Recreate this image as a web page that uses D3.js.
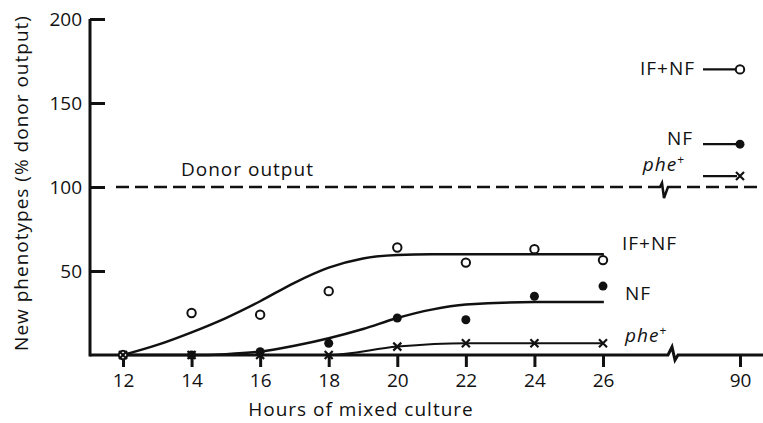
<!DOCTYPE html>
<html>
<head>
<meta charset="utf-8">
<script src="https://cdn.jsdelivr.net/npm/d3@7"></script>
<style>
  body { margin: 0; background: #fff; }
  svg text { font-family: "Open Sans", Lato, sans-serif; fill: #111; }
  .lab { letter-spacing: 1px; }
</style>
</head>
<body>
<svg id="chart" width="763" height="423"></svg>
<script>
// observed points (hours of mixed culture)
var hours = [12, 14, 16, 18, 20, 22, 24, 26];
var ifnf = [0, 25, 24, 38, 64, 55, 63, 56.5];
var nf = [0, 0, 2, 7, 22, 21, 35, 41];
var phe = [0, 0, 0, 0, 5, 7, 7, 7];

// the 90 h values
var late = 90;
var ifnfLate = 170;
var nfLate = 125.5;
var pheLate = 106.5;

// hand drawn fitted curves
var fitHours = [12, 13, 14, 15, 16, 17, 18, 19, 20, 21, 22, 24, 26.4];
var ifnfFit = [0, 6, 13.5, 22, 32, 43, 52, 57.5, 59.5, 60, 60, 60, 60];
var nfFit = [0, 0, 0, 0.5, 2, 5.5, 10, 15.5, 22, 27, 30, 31.5, 31.5];
var pheHours = [12, 14, 16, 18, 20, 22, 24, 26, 26.3];
var pheFit = [0, 0, 0, 0, 5, 7, 7, 7, 7];

var xTicks = [12, 14, 16, 18, 20, 22, 24, 26, 90];
var yTicks = [50, 100, 150, 200];
var donor = 100;

var svg = d3.select("#chart");

// broken x axis: 12-26 then jump to 90
var x = d3.scaleLinear()
    .domain([12, 26, 90])
    .range([123, 603, 740]);

var y = d3.scaleLinear()
    .domain([0, 200])
    .range([355, 19]);

var ink = "#111";

// y axis
var yAxis = svg.append("g")
    .attr("transform", "translate(90,0)")
    .call(d3.axisLeft(y).tickValues(yTicks).tickSize(-15).tickSizeOuter(0).tickPadding(8));
yAxis.select(".domain").remove();
yAxis.selectAll("line").attr("stroke", ink).attr("stroke-width", 3);
yAxis.selectAll("text").style("font-size", "19px").attr("fill", ink);
svg.append("line")
    .attr("x1", 90).attr("x2", 90)
    .attr("y1", y(200)).attr("y2", y(0) + 1.5)
    .attr("stroke", ink).attr("stroke-width", 3);

// x axis
var xAxis = svg.append("g")
    .attr("transform", "translate(0," + y(0) + ")")
    .call(d3.axisBottom(x).tickValues(xTicks).tickSize(12).tickSizeOuter(0).tickPadding(7));
xAxis.select(".domain").remove();
xAxis.selectAll("line").attr("stroke", ink).attr("stroke-width", 3);
xAxis.selectAll("text").style("font-size", "19px").attr("fill", ink);

var bx = 672, by = y(0);
svg.append("path")
    .attr("d", "M90," + by + "L" + (bx - 4) + "," + by + "L" + bx + "," + (by - 8) +
        "L" + (bx + 3) + "," + (by + 5) + "L" + (bx + 6) + "," + by + "L763," + by)
    .attr("fill", "none").attr("stroke", ink).attr("stroke-width", 3)
    .attr("stroke-linejoin", "miter");

// donor output dashed line with its break
var dy = y(donor), dbx = 663;
svg.append("line")
    .attr("x1", 116).attr("x2", dbx - 8)
    .attr("y1", dy).attr("y2", dy)
    .attr("stroke", ink).attr("stroke-width", 2.5).attr("stroke-dasharray", "13,6");
svg.append("path")
    .attr("d", "M" + (dbx - 8) + "," + dy + "L" + (dbx - 3) + "," + dy + "L" + (dbx - 1) + "," + (dy - 4) +
        "L" + (dbx + 1) + "," + (dy + 11) + "L" + (dbx + 5) + "," + dy + "L" + (dbx + 18) + "," + dy)
    .attr("fill", "none").attr("stroke", ink).attr("stroke-width", 2.5);
svg.append("line")
    .attr("x1", dbx + 24).attr("x2", 763)
    .attr("y1", dy).attr("y2", dy)
    .attr("stroke", ink).attr("stroke-width", 2.5).attr("stroke-dasharray", "13,6");

svg.append("text")
    .attr("class", "lab")
    .attr("x", 181).attr("y", dy - 11)
    .style("font-size", "19px")
    .text("Donor output");

// fitted curves
var line = d3.line()
    .x(function (d) { return x(d[0]); })
    .y(function (d) { return y(d[1]); })
    .curve(d3.curveMonotoneX);

svg.append("path")
    .datum(d3.zip(fitHours, ifnfFit))
    .attr("d", line)
    .attr("fill", "none").attr("stroke", ink).attr("stroke-width", 2.5);
svg.append("path")
    .datum(d3.zip(fitHours, nfFit))
    .attr("d", line)
    .attr("fill", "none").attr("stroke", ink).attr("stroke-width", 2.5);
svg.append("path")
    .datum(d3.zip(pheHours, pheFit))
    .attr("d", line)
    .attr("fill", "none").attr("stroke", ink).attr("stroke-width", 2);

// markers
var crossPath = function (cx, cy, r) {
    return "M" + (cx - r) + "," + (cy - r) + "L" + (cx + r) + "," + (cy + r) +
        "M" + (cx - r) + "," + (cy + r) + "L" + (cx + r) + "," + (cy - r);
};

svg.append("g").selectAll("circle")
    .data(d3.zip(hours, nf))
    .enter().append("circle")
    .attr("cx", function (d) { return x(d[0]); })
    .attr("cy", function (d) { return y(d[1]); })
    .attr("r", 4.5)
    .attr("fill", ink);

svg.append("g").selectAll("circle")
    .data(d3.zip(hours, ifnf))
    .enter().append("circle")
    .attr("cx", function (d) { return x(d[0]); })
    .attr("cy", function (d) { return y(d[1]); })
    .attr("r", 4.2)
    .attr("fill", "#fff").attr("stroke", ink).attr("stroke-width", 2);

svg.append("g").selectAll("path")
    .data(d3.zip(hours, phe))
    .enter().append("path")
    .attr("d", function (d) { return crossPath(x(d[0]), y(d[1]), 4); })
    .attr("stroke", ink).attr("stroke-width", 2.2);

// values at 90 h, each with a short lead line
var xl = x(late);
[[ifnfLate, "open"], [nfLate, "filled"], [pheLate, "cross"]].forEach(function (v) {
    svg.append("line")
        .attr("x1", xl - 37).attr("x2", xl - 3)
        .attr("y1", y(v[0])).attr("y2", y(v[0]))
        .attr("stroke", ink).attr("stroke-width", 2.2);
    if (v[1] == "open") {
        svg.append("circle").attr("cx", xl).attr("cy", y(v[0])).attr("r", 4.2)
            .attr("fill", "#fff").attr("stroke", ink).attr("stroke-width", 2);
    } else if (v[1] == "filled") {
        svg.append("circle").attr("cx", xl).attr("cy", y(v[0])).attr("r", 4.5).attr("fill", ink);
    } else {
        svg.append("path").attr("d", crossPath(xl, y(v[0]), 4))
            .attr("stroke", ink).attr("stroke-width", 2.2);
    }
});

// series labels
var label = function (tx, ty, anchor, txt, italic) {
    var t = svg.append("text")
        .attr("class", "lab")
        .attr("x", tx).attr("y", ty)
        .attr("text-anchor", anchor)
        .style("font-size", "19px");
    if (italic) {
        t.append("tspan").style("font-style", "italic").text(txt);
        t.append("tspan").attr("dy", -7).style("font-size", "12px").text("+");
    } else {
        t.text(txt);
    }
};

label(622, 250, "start", "IF+NF");
label(625, 300, "start", "NF");
label(625, 342, "start", "phe", true);
label(695, 75, "end", "IF+NF");
label(693, 145, "end", "NF");
label(685, 171, "end", "phe", true);

// axis titles
svg.append("text")
    .attr("class", "lab")
    .attr("transform", "translate(28,183) rotate(-90)")
    .attr("text-anchor", "middle")
    .style("font-size", "19px")
    .text("New phenotypes (% donor output)");

svg.append("text")
    .attr("class", "lab")
    .attr("x", 361).attr("y", 416)
    .attr("text-anchor", "middle")
    .style("font-size", "19px")
    .text("Hours of mixed culture");
</script>
</body>
</html>
